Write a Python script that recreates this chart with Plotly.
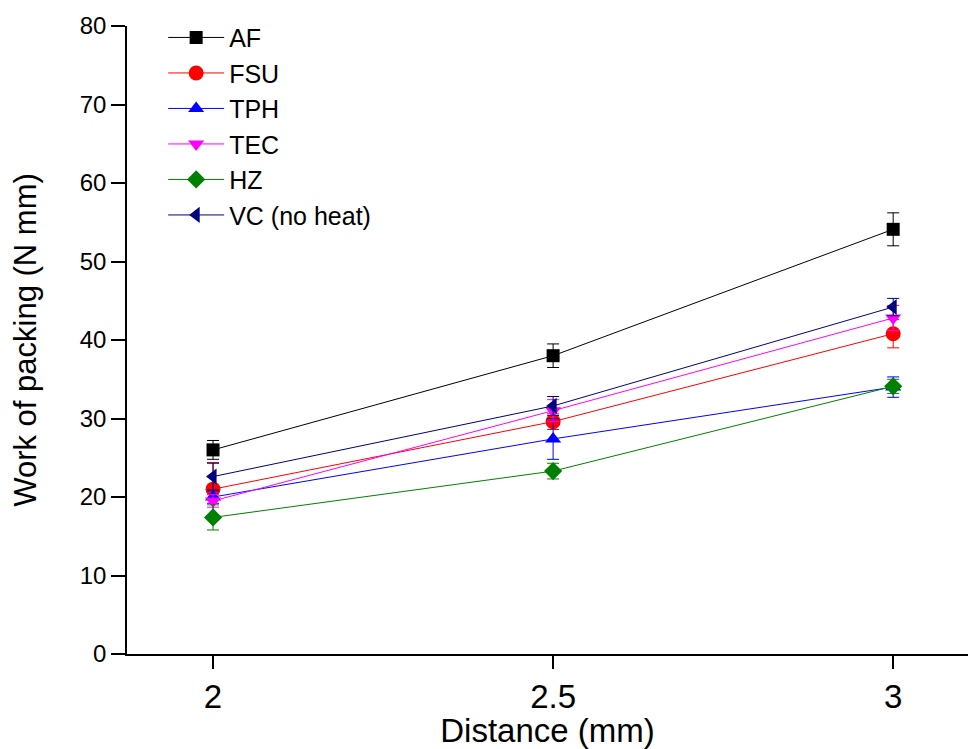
import plotly.graph_objects as go

distance = [2, 2.5, 3]
series_names = ["AF", "FSU", "TPH", "TEC", "HZ", "VC (no heat)"]
af = [26.0, 38.0, 54.1]
af_err = [1.2, 1.5, 2.1]
fsu = [21.0, 29.6, 40.8]
fsu_err = [3.4, 1.0, 1.8]
tph = [20.0, 27.4, 34.0]
tph_err = [0.8, 2.6, 1.3]
tec = [19.5, 31.0, 42.8]
tec_err = [0.8, 1.4, 1.6]
hz = [17.4, 23.3, 34.1]
hz_err = [1.6, 1.0, 0.9]
vc = [22.6, 31.6, 44.2]
vc_err = [1.7, 1.2, 1.1]

x_ticks = [2, 2.5, 3]
x_tick_labels = ["2", "2.5", "3"]
y_ticks = [0, 10, 20, 30, 40, 50, 60, 70, 80]

values = [af, fsu, tph, tec, hz, vc]
errors = [af_err, fsu_err, tph_err, tec_err, hz_err, vc_err]
colors = ["#000000", "#FF0000", "#0000FF", "#FF00FF", "#008000", "#000080"]
symbols = ["square", "circle", "triangle-up", "triangle-down", "diamond", "triangle-left"]
sizes = [13, 15, 14, 14, 14, 14]

fig = go.Figure()
for name, y, e, c, s, sz in zip(series_names, values, errors, colors, symbols, sizes):
    fig.add_trace(go.Scatter(
        x=distance, y=y, name=name, mode="lines+markers",
        line=dict(color=c, width=1),
        marker=dict(symbol=s, size=sz, color=c, line=dict(width=0)),
        error_y=dict(type="data", array=e, visible=True, color=c, thickness=1, width=6),
    ))

font_family = "Liberation Sans, Arial, sans-serif"
fig.update_layout(
    width=968, height=749,
    margin=dict(l=127, r=0, t=26, b=95, pad=0),
    paper_bgcolor="white", plot_bgcolor="white",
    font=dict(family=font_family, color="black"),
    showlegend=True,
    legend=dict(
        x=0.043, y=1.018, xanchor="left", yanchor="top",
        font=dict(size=25, family=font_family),
        bgcolor="rgba(0,0,0,0)", tracegroupgap=0, itemwidth=56,
    ),
    xaxis=dict(
        range=[1.8735, 3.110], tickvals=x_ticks, ticktext=x_tick_labels,
        ticks="outside", ticklen=13, tickwidth=1.5, tickcolor="black",
        showline=True, linecolor="black", linewidth=1.5,
        showgrid=False, zeroline=False,
        tickfont=dict(size=33),
        title=dict(text="Distance (mm)", font=dict(size=33), standoff=0),
    ),
    yaxis=dict(
        range=[0, 80], tickvals=y_ticks,
        ticks="outside", ticklen=14, tickwidth=1.5, tickcolor="black",
        showline=True, linecolor="black", linewidth=1.5,
        showgrid=False, zeroline=False,
        tickfont=dict(size=24),
        title=dict(text="Work of packing (N mm)", font=dict(size=31), standoff=34),
    ),
)

fig.write_html("out.html")
